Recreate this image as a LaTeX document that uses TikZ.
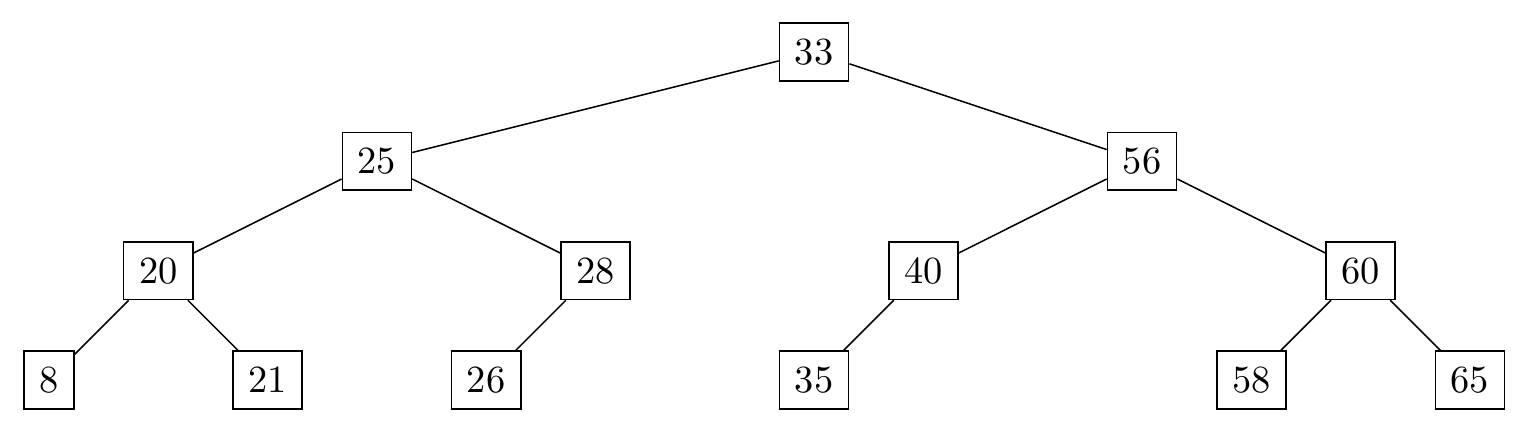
\documentclass[tikz,border=0pt]{standalone}
\begin{document}
\begin{tikzpicture}[
    keynode/.style={draw, inner xsep=4pt, minimum height=15pt}
  ]
  \useasboundingbox (-0.448,0.476) rectangle (13.531,-3.485);

  % Raiz y niveles
  \node[keynode] (n33) at (7,0) {33};
  \node[keynode] (n25) at (3,-1) {25};
  \node[keynode] (n56) at (10,-1) {56};
  \node[keynode] (n20) at (1,-2) {20};
  \node[keynode] (n28) at (5,-2) {28};
  \node[keynode] (n40) at (8,-2) {40};
  \node[keynode] (n60) at (12,-2) {60};

  % Hojas
  \node[keynode] (n8)  at (0,-3) {8};
  \node[keynode] (n21) at (2,-3) {21};
  \node[keynode] (n26) at (4,-3) {26};
  \node[keynode] (n35) at (7,-3) {35};
  \node[keynode] (n58) at (11,-3) {58};
  \node[keynode] (n65) at (13,-3) {65};

  % Aristas
  \foreach \p/\c in {33/25,33/56,25/20,25/28,56/40,56/60,20/8,20/21,28/26,40/35,60/58,60/65} {
    \draw (n\p) -- (n\c);
  }
\end{tikzpicture}
\end{document}
